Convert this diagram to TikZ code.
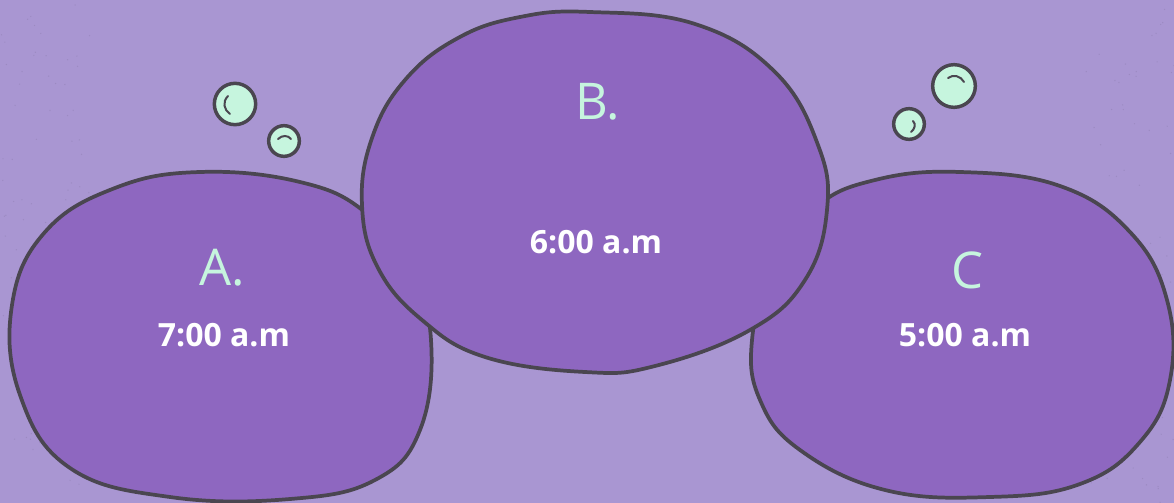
\documentclass[tikz,border=0pt]{standalone}
\usepackage{fontspec}
\setmainfont{Open Sans}
\newfontfamily\handfont{Open Sans}
\definecolor{bgc}{HTML}{A996D2}
\definecolor{blobc}{HTML}{8E67C0}
\definecolor{linec}{HTML}{4A4650}
\definecolor{mint}{HTML}{C6F5DE}
\tikzset{
  blob/.style={fill=blobc, draw=linec, line width=2.8pt, line join=round},
  bubble/.style={circle, fill=mint, draw=linec, line width=2.6pt, inner sep=0pt},
  shine/.style={draw=linec, line width=1.5pt, line cap=round},
  letter/.style={text=mint, font=\handfont\fontsize{38}{38}\selectfont},
  timetxt/.style={text=white, font=\bfseries\fontsize{24}{24}\selectfont}
}
\begin{document}
\begin{tikzpicture}[x=0.75pt, y=-0.75pt]
\fill[bgc] (0,0) rectangle (1174,503);
\useasboundingbox (0,0) rectangle (1174,503);
% speckles
\pgfmathsetseed{7}
\foreach \i in {1,...,160}{
  \pgfmathsetmacro{\px}{rnd<0.5 ? rnd*90 : 1174-rnd*90}
  \pgfmathsetmacro{\py}{rnd*503}
  \fill[bgc!85!black, opacity=0.5] (\px,\py) circle (0.7);
}
% blob A
\draw[blob] plot[smooth cycle, tension=0.7] coordinates {
 (200,172) (300,182) (365,212) (410,268) (431,340) (420,430) (375,480) (290,499)
 (170,497) (70,468) (20,395) (12,305) (45,232) (115,188)};
% blob C
\draw[blob] plot[smooth cycle, tension=0.7] coordinates {
 (960,172) (1060,186) (1130,232) (1167,300) (1170,380) (1140,442) (1080,484)
 (990,497) (885,490) (800,450) (760,400) (752,340) (772,268) (815,208) (875,180)};
% blob B
\draw[blob] plot[smooth cycle, tension=0.7] coordinates {
 (590,12) (695,24) (775,72) (818,145) (827,210) (805,280) (750,330) (655,366)
 (585,372) (485,357) (422,320) (378,268) (362,205) (372,138) (405,80) (458,38) (520,17)};
% bubbles
\node[bubble, minimum size=31pt] (b1) at (235,104) {};
\node[bubble, minimum size=23pt] (b2) at (284,141) {};
\node[bubble, minimum size=32pt] (b3) at (954,86) {};
\node[bubble, minimum size=23pt] (b4) at (909,124) {};
\draw[shine] ([shift={(-7,-8)}]b1.center) .. controls ([shift={(-13,-2)}]b1.center) and ([shift={(-11,6)}]b1.center) .. ([shift={(-5,10)}]b1.center);
\draw[shine] ([shift={(-6,-2)}]b2.center) .. controls ([shift={(-2,-6)}]b2.center) and ([shift={(4,-6)}]b2.center) .. ([shift={(7,-2)}]b2.center);
\draw[shine] ([shift={(-6,-8)}]b3.center) .. controls ([shift={(-1,-12)}]b3.center) and ([shift={(7,-10)}]b3.center) .. ([shift={(10,-4)}]b3.center);
\draw[shine] ([shift={(4,-3)}]b4.center) .. controls ([shift={(7,0)}]b4.center) and ([shift={(6,5)}]b4.center) .. ([shift={(2,8)}]b4.center);
% texts
\node[letter] (la) at (222,268) {A.};
\node[timetxt] (ta) at (224,335) {7:00 a.m};
\node[letter] (lb) at (598,102) {B.};
\node[timetxt] (tb) at (596,242) {6:00 a.m};
\node[letter] (lc) at (967,270) {C};
\node[timetxt] (tc) at (965,335) {5:00 a.m};
\end{tikzpicture}
\end{document}
